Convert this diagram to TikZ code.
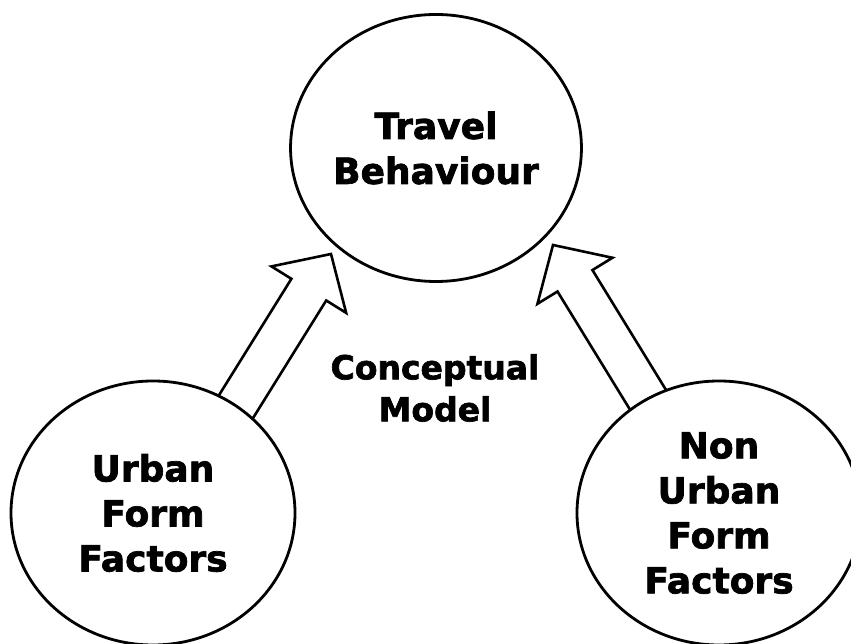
\documentclass[tikz,border=0pt]{standalone}
\usepackage{fontspec}
\setmainfont{DejaVu Sans}[BoldFeatures={FakeBold=2}]
\usetikzlibrary{shapes.geometric,calc,backgrounds}

\tikzset{
	factor/.style={ellipse, draw, line width=2.8pt, fill=white, inner sep=0pt,
		minimum width=284pt, minimum height=264pt, align=center,
		font=\bfseries\fontsize{36}{45}\selectfont},
	blockarrow/.style={draw, line width=2.6pt, fill=white, line join=miter}
}

% hollow block arrow: tail #1 (hidden inside a circle), tip #2
\newcommand{\blockarrow}[2]{%
	\draw[blockarrow] ($(#1)!20.5pt!90:(#2)$)
		-- ($(#2)!42pt!(#1)!20.5pt!90:(#2)$)
		-- ($(#2)!42pt!(#1)!44pt!90:(#2)$)
		-- (#2)
		-- ($(#2)!42pt!(#1)!44pt!-90:(#2)$)
		-- ($(#2)!42pt!(#1)!20.5pt!-90:(#2)$)
		-- ($(#1)!20.5pt!-90:(#2)$) -- cycle;
}

\begin{document}
\begin{tikzpicture}[x=1pt,y=1pt]
			
			\useasboundingbox (0,0) rectangle (851,644);
			
			% The three circles
			\node[factor, minimum height=267pt] (travel) at (436,496) {Travel\\Behaviour};
			\node[factor] (urban) at (153,131) {Urban\\Form\\Factors};
			\node[factor] (nonurban) at (719,131) {Non\\Urban\\Form\\Factors};
			
			% Label in the middle
			\node[align=center, font=\bfseries\fontsize{33}{42}\selectfont] (model) at (435,256) {Conceptual\\Model};
			
			% Arrow ends
			\coordinate (urbanTail) at (214,202);
			\coordinate (urbanTip) at (331,390);
			\coordinate (nonurbanTail) at (669,210);
			\coordinate (nonurbanTip) at (553,399);
			
			% Block arrows behind the circles
			\begin{scope}[on background layer]
				\blockarrow{urbanTail}{urbanTip}
				\blockarrow{nonurbanTail}{nonurbanTip}
			\end{scope}
			
		\end{tikzpicture}
\end{document}
